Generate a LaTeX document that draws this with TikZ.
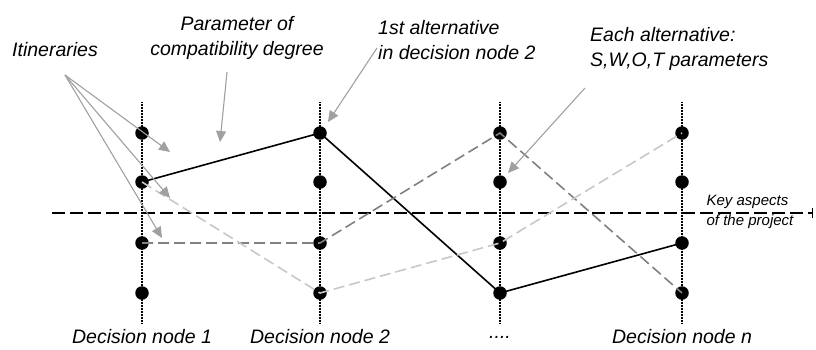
\documentclass[tikz,border=0pt]{standalone}
\usepackage{fontspec}
\setmainfont{Liberation Sans}
\usetikzlibrary{arrows.meta}
\definecolor{arrowgray}{RGB}{160,160,160}
\definecolor{darkdash}{RGB}{128,128,128}
\definecolor{lightdash}{RGB}{200,200,200}
\begin{document}
\begin{tikzpicture}[x=1pt,y=-1pt,
  dot/.style={circle,fill=black,inner sep=0pt,minimum size=13.5pt},
  stem/.style={draw,black,line width=1.6pt,dash pattern=on 1pt off 0.5pt},
  keyline/.style={draw,black,line width=1.8pt,dash pattern=on 13pt off 5pt},
  pointer/.style={draw,arrowgray,line width=1.1pt,-{Triangle[length=11pt,width=10pt]}},
  lbl/.style={font=\fontsize{19.5}{25}\selectfont\itshape,inner sep=0pt},
  keylbl/.style={font=\fontsize{15}{20}\selectfont\itshape,inner sep=0pt,align=left}]
\useasboundingbox (0,0) rectangle (816,349);
% decision node stems
\coordinate (t1) at (142,102); \coordinate (b1) at (142,323);
\coordinate (t2) at (320,102); \coordinate (b2) at (320,323);
\coordinate (t3) at (500,102); \coordinate (b3) at (500,323);
\coordinate (t4) at (682,102); \coordinate (b4) at (682,323);
\path[stem] (t1) -- (b1);
\path[stem] (t2) -- (b2);
\path[stem] (t3) -- (b3);
\path[stem] (t4) -- (b4);
% key aspects axis
\coordinate (k1) at (52,213);
\coordinate (k2) at (813,213);
\path[keyline,-{Bar[width=10pt,line width=1.5pt]}] (k1) -- (k2);
\node[keylbl] (key) at (750,212) {Key aspects\\of the project};
% alternatives
\node[dot] (11) at (142,133) {};
\node[dot] (12) at (142,182) {};
\node[dot] (13) at (142,243) {};
\node[dot] (14) at (142,293) {};
\node[dot] (21) at (320,133) {};
\node[dot] (22) at (320,182) {};
\node[dot] (23) at (320,243) {};
\node[dot] (24) at (320,293) {};
\node[dot] (31) at (500,133) {};
\node[dot] (32) at (500,182) {};
\node[dot] (33) at (500,243) {};
\node[dot] (34) at (500,293) {};
\node[dot] (41) at (682,133) {};
\node[dot] (42) at (682,182) {};
\node[dot] (43) at (682,243) {};
\node[dot] (44) at (682,293) {};
% itineraries
\path[draw,black,line width=1.6pt] (12.center) -- (21.center) -- (34.center) -- (43.center);
\path[draw,darkdash,line width=1.6pt,dash pattern=on 11pt off 5pt] (13.center) -- (23.center) -- (31.center) -- (44.center);
\path[draw,lightdash,line width=1.6pt,dash pattern=on 11pt off 5pt] (12.center) -- (24.center) -- (33.center) -- (41.center);
% labels
\node[lbl] (n1) at (142,337) {Decision node 1};
\node[lbl] (n2) at (320,337) {Decision node 2};
\node[lbl] (n3) at (500,337) {....};
\node[lbl] (n4) at (682,337) {Decision node n};
\node[lbl] (itin) at (55,50) {Itineraries};
\node[lbl,align=center] (param) at (237,38) {Parameter of\\compatibility degree};
\node[lbl,align=left,anchor=west] (first) at (378,40) {1st alternative\\in decision node 2};
\node[lbl,align=left,anchor=west] (each) at (590,49) {Each alternative:\\S,W,O,T parameters};
% pointers
\coordinate (i0) at (65,75);
\coordinate (i1) at (170,152);
\coordinate (i2) at (170,198);
\coordinate (i3) at (162,238);
\coordinate (p0) at (227,72);
\coordinate (p1) at (220,142);
\coordinate (f0) at (377,48);
\coordinate (f1) at (328,122);
\coordinate (e0) at (585,88);
\coordinate (e1) at (508,173);
\path[pointer] (i0) -- (i1);
\path[pointer] (i0) -- (i2);
\path[pointer] (i0) -- (i3);
\path[pointer] (p0) -- (p1);
\path[pointer] (f0) -- (f1);
\path[pointer] (e0) -- (e1);
\end{tikzpicture}
\end{document}
